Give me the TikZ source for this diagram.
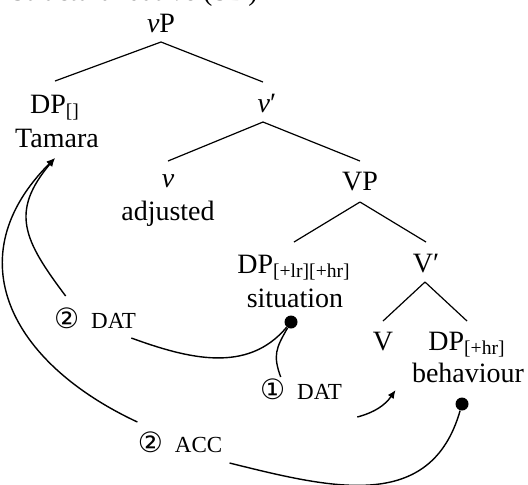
\documentclass[tikz,border=0pt]{standalone}
\usepackage{fontspec}
\setmainfont{Liberation Serif}
\newfontfamily\circfont{DejaVu Sans}
\usetikzlibrary{arrows.meta}
\newcommand\nuit{\textit{ν}}
\newcommand\fsc[1]{{\fontsize{11.5}{12}\selectfont #1}}
\newcommand\circd[1]{{\circfont\fontsize{14}{14}\selectfont #1}}
\newcommand\sbx[1]{\textsubscript{#1}}
\begin{document}
\begin{tikzpicture}[x=0.5pt,y=-0.5pt,
  every node/.style={font=\fontsize{14}{17}\selectfont},
  cat/.style={inner sep=0pt, anchor=base},
  branch/.style={line width=0.6pt},
  link/.style={line width=0.7pt},
  arr/.style={link,-{Latex[length=4.2pt,width=3.6pt]}},
  lab/.style={inner sep=0pt, anchor=base},
  dot/.style={circle, fill, inner sep=0pt, minimum size=6.5pt}]
\useasboundingbox (0,0) rectangle (528,484);

\node[cat, anchor=base east] (title) at (258,0.5) {Structural dative (SD)};

\node[cat] (vp) at (161,32) {\nuit P};
\node[cat] (dpa) at (55,113) {DP\sbx{[]}};
\node[cat] (tam) at (57,147) {Tamara};
\node[cat] (vbar) at (267,112) {\nuit′};
\node[cat] (v) at (168,187) {\nuit};
\node[cat] (adj) at (168,220) {adjusted};
\node[cat] (VP) at (360,190) {VP};
\node[cat] (dpb) at (294,273) {DP\sbx{[+lr][+hr]}};
\node[cat] (sit) at (295,307) {situation};
\node[cat] (Vbar) at (426,272) {V′};
\node[cat] (V) at (383,350) {V};
\node[cat] (dpc) at (467,350) {DP\sbx{[+hr]}};
\node[cat] (beh) at (468,382) {behaviour};

\draw[branch] ([yshift=-5pt]vp.base) -- ([yshift=16pt]dpa.base);
\draw[branch] ([yshift=-5pt]vp.base) -- ([xshift=-2pt,yshift=15pt]vbar.base);
\draw[branch] ([xshift=-2pt,yshift=-5pt]vbar.base) -- ([yshift=13pt]v.base);
\draw[branch] ([xshift=-2pt,yshift=-5pt]vbar.base) -- ([yshift=14.5pt]VP.base);
\draw[branch] ([yshift=-6pt]VP.base) -- ([yshift=15.5pt]dpb.base);
\draw[branch] ([yshift=-6pt]VP.base) -- ([yshift=15pt]Vbar.base);
\draw[branch] ([xshift=-0.5pt,yshift=-5pt]Vbar.base) -- ([yshift=14.5pt]V.base);
\draw[branch] ([xshift=-0.5pt,yshift=-5pt]Vbar.base) -- ([yshift=14.5pt]dpc.base);

\node[lab] (la) at (95,328) {\circd{②}\hspace{6pt}\fsc{DAT}};
\node[lab] (lb) at (180,452) {\circd{②}\hspace{6pt}\fsc{ACC}};
\node[lab] (lc) at (301,399) {\circd{①}\hspace{6pt}\fsc{DAT}};

\node[dot] (sd) at (291,322) {};
\node[dot] (bd) at (462,404) {};

\draw[link] (sd) to[out=-130,in=-20] ([xshift=-2.5pt,yshift=-5pt]la.base east);
\draw[arr] ([xshift=6pt,yshift=16pt]la.base west) to[out=127,in=230,looseness=1.3] ([xshift=-1pt,yshift=-5.5pt]tam.base);
\draw[arr] ([yshift=15pt]lb.base west) to[out=155,in=225,looseness=1.3] ([xshift=-1pt,yshift=-5.5pt]tam.base);
\draw[link] (bd) to[out=-106,in=-14,looseness=1.15] ([xshift=3.5pt,yshift=-5.5pt]lb.base east);
\draw[link] (sd) to[out=-120,in=110,looseness=1.2] ([xshift=10.5pt,yshift=11pt]lc.base west);
\draw[arr] ([xshift=7.5pt,yshift=-9pt]lc.base east) to[out=15,in=235] ([xshift=-8pt,yshift=-4pt]beh.base west);
\end{tikzpicture}
\end{document}
